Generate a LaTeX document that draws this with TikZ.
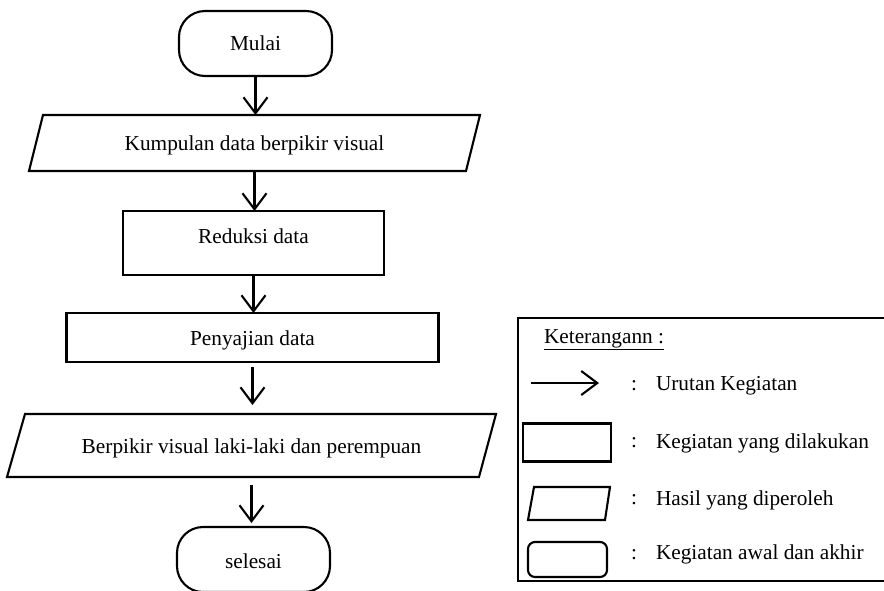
\documentclass[tikz,border=0pt]{standalone}
\usepackage{fontspec}
\setmainfont{Liberation Serif}
\usetikzlibrary{arrows.meta,calc}
\begin{document}
\begin{tikzpicture}[x=1pt,y=-1pt,
  font=\fontsize{21.3pt}{25pt}\selectfont,
  every node/.style={outer sep=0pt},
  ln/.style={line width=2.1pt},
  terminal/.style={ln,draw,rectangle,rounded corners=26pt,minimum width=153pt,minimum height=65pt,inner sep=0pt},
  procbox/.style={ln,draw,rectangle,inner sep=0pt},
  area/.style={rectangle,inner sep=0pt},
  txt/.style={inner sep=0pt},
  lowtext/.style={text height=17pt,text depth=2pt},
  arr/.style={ln,-{Straight Barb[length=16pt,width=24pt,line width=2.1pt]}}]
\useasboundingbox (0,0) rectangle (884,590);

% flowchart
\node[terminal] (mulai) at (255.5,43.5) {Mulai};
\node[area,lowtext,minimum width=451pt,minimum height=56pt] (p1) at (254.5,143) {Kumpulan data berpikir visual};
\draw[ln,line join=miter] ($(p1.north west)+(14,0)$) -- (p1.north east) -- ($(p1.south east)+(-14,0)$) -- (p1.south west) -- cycle;
\node[procbox,minimum width=261pt,minimum height=64pt] (reduksi) at (253.5,243) {};
\node[txt] (reduksiT) at (253.5,236) {Reduksi data};
\node[procbox,lowtext,minimum width=372pt,minimum height=49pt] (penyajian) at (252.5,337.5) {Penyajian data};
\node[area,lowtext,minimum width=489pt,minimum height=63pt] (p2) at (251.5,445.5) {Berpikir visual laki-laki dan perempuan};
\draw[ln,line join=miter] ($(p2.north west)+(18,0)$) -- (p2.north east) -- ($(p2.south east)+(-17,0)$) -- (p2.south west) -- cycle;
\node[terminal,text height=19pt,text depth=0.5pt] (selesai) at (253.5,559.5) {selesai};

\draw[arr] (mulai.south) -- (mulai.south |- p1.north);
\draw[arr] (p1.south) -- (p1.south |- reduksi.north);
\draw[arr] (reduksi.south) -- (reduksi.south |- penyajian.north);
\draw[arr,shorten <=5pt,shorten >=9pt] (penyajian.south) -- (penyajian.south |- p2.north);
\draw[arr,shorten <=8pt,shorten >=4pt] (p2.south) -- (p2.south |- selesai.north);

% legend
\node[ln,draw,rectangle,anchor=north west,minimum width=372pt,minimum height=263pt] (legend) at (518,318) {};
\node[txt,anchor=west] (ket) at (544,340) {\underline{Keterangann :}};

\coordinate (la1) at (531,383);
\coordinate (la2) at (599,383);
\draw[arr] (la1) -- (la2);
\node[txt] (c1) at (634,386) {:};
\node[txt,anchor=west] (t1) at (656,386) {Urutan Kegiatan};

\node[procbox,minimum width=88pt,minimum height=38pt] (lrect) at (567,442.5) {};
\node[txt] (c2) at (634,443) {:};
\node[txt,anchor=west] (t2) at (656,443) {Kegiatan yang dilakukan};

\node[area,minimum width=82pt,minimum height=33pt] (lpara) at (569,503.5) {};
\draw[ln,line join=miter] ($(lpara.north west)+(6,0)$) -- (lpara.north east) -- ($(lpara.south east)+(-5,0)$) -- (lpara.south west) -- cycle;
\node[txt] (c3) at (634,500) {:};
\node[txt,anchor=west] (t3) at (656,500) {Hasil yang diperoleh};

\node[ln,draw,rectangle,rounded corners=7pt,minimum width=79pt,minimum height=35pt] (lround) at (567.5,559.5) {};
\node[txt] (c4) at (634,555) {:};
\node[txt,anchor=west] (t4) at (656,554.5) {Kegiatan awal dan akhir};
\end{tikzpicture}
\end{document}
